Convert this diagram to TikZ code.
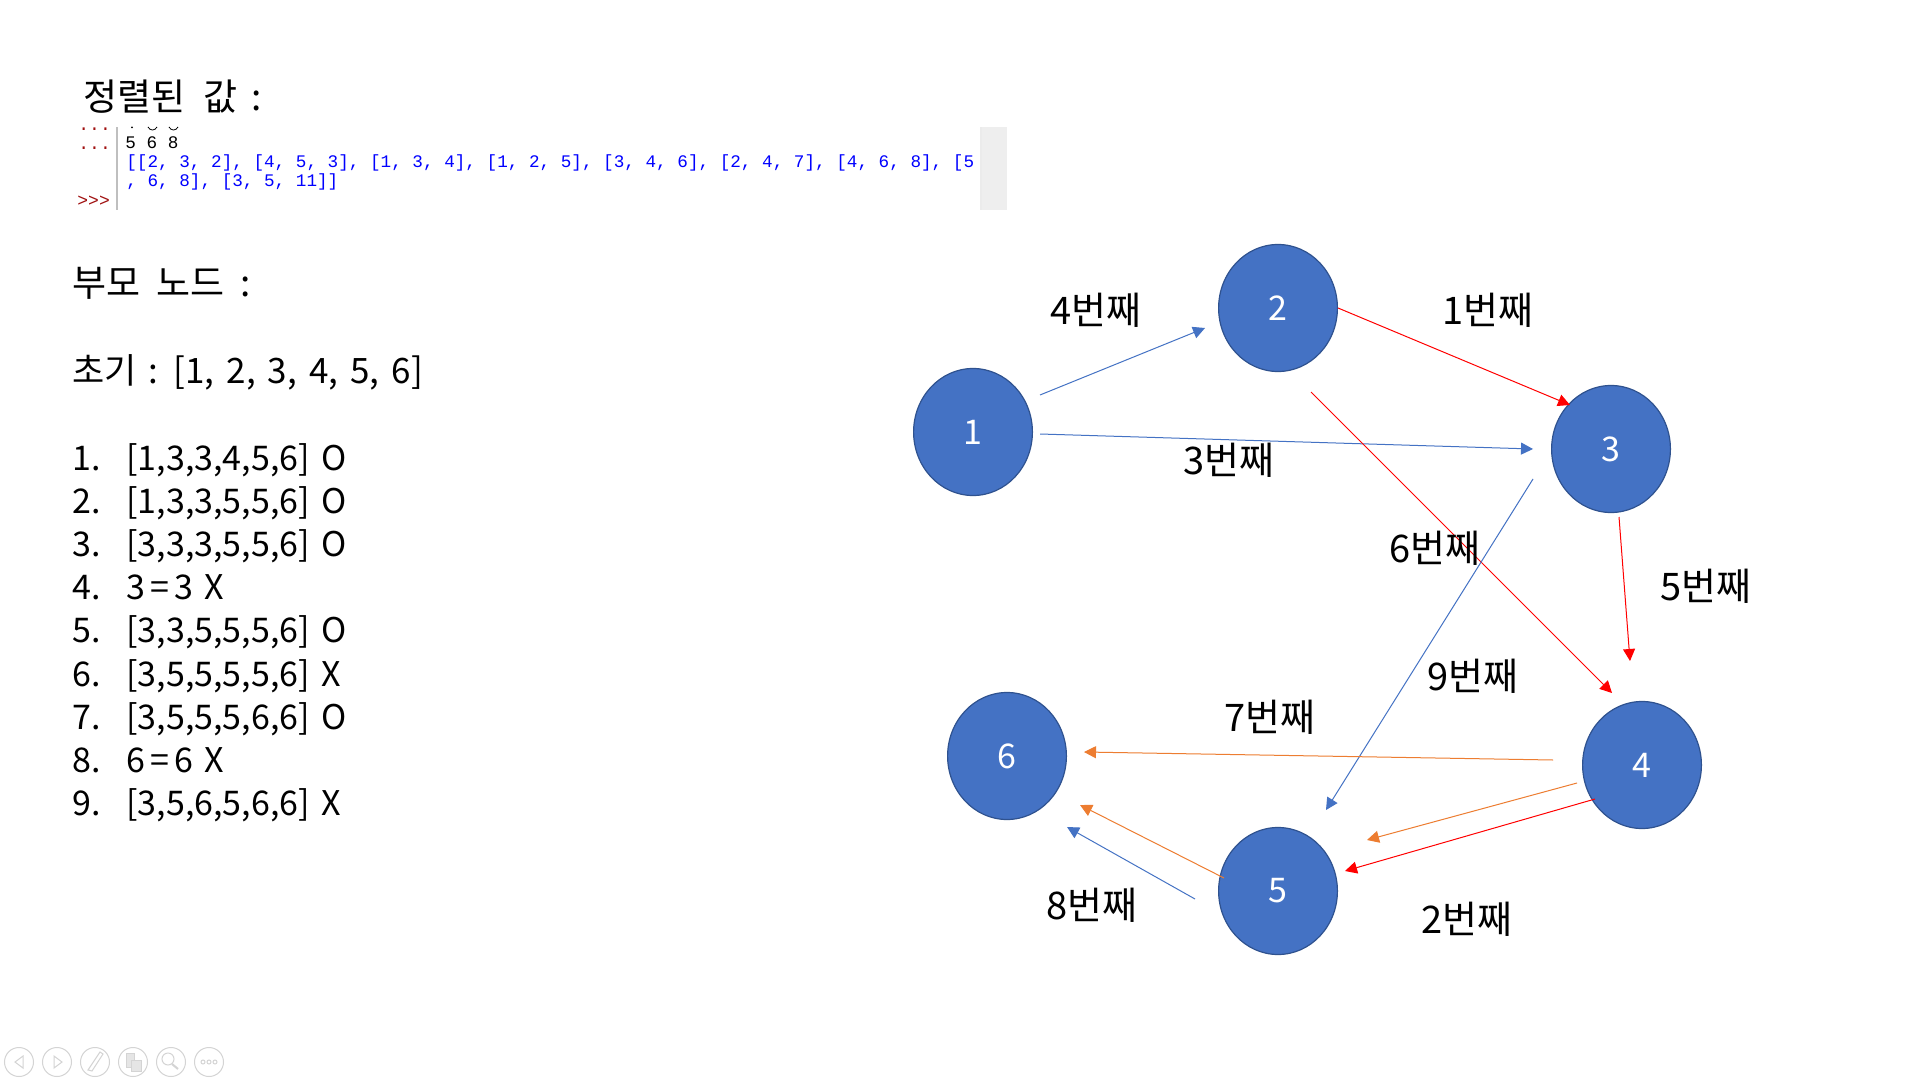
\documentclass[tikz,border=0pt]{standalone}
\usepackage{fontspec}
\setmainfont{Noto Sans CJK KR}
\newfontfamily\codefont{Liberation Mono}
\newfontfamily\initfont[WordSpace=1.2]{Noto Sans CJK KR}
\newfontfamily\listfont[WordSpace=1.55]{Noto Sans CJK KR}
\usetikzlibrary{arrows.meta,shapes.geometric}
\definecolor{nodeblue}{HTML}{4472C4}
\definecolor{nodeedge}{HTML}{2F528F}
\definecolor{arrorange}{HTML}{ED7D31}
\definecolor{promptred}{HTML}{A01010}
\definecolor{toolgrey}{HTML}{D4D4D4}
\tikzset{
  gnode/.style={ellipse,draw=nodeedge,line width=0.6pt,fill=nodeblue,minimum width=59.4pt,minimum height=63.5pt,inner sep=0pt,text=white,font=\fontsize{17}{20}\selectfont},
  conn/.style={line width=0.5pt,-{Triangle[length=6pt,width=6pt]}},
  cblue/.style={conn,draw=nodeblue},
  cred/.style={conn,draw=red},
  corange/.style={conn,draw=arrorange},
  elabel/.style={anchor=base west,inner sep=0pt,font=\fontsize{19}{22}\selectfont},
  txt/.style={anchor=base west,inner sep=0pt,font=\listfont\fontsize{17}{20}\selectfont},
  head/.style={anchor=base west,inner sep=0pt,font=\fontsize{18.5}{20}\selectfont},
  code/.style={anchor=base west,inner sep=0pt,font=\codefont\fontsize{8.83}{10}\selectfont},
  tool/.style={draw=toolgrey,line width=0.5pt},
}
\begin{document}
\begin{tikzpicture}[x=0.5pt,y=-0.5pt]
\useasboundingbox[fill=white] (0,0) rectangle (1920,1080);
% headings
\node[head] (h1) at (83,111) {정렬된\hspace{9pt}값\hspace{7pt}:};
\node[head] (h2) at (72,297) {부모\hspace{8pt}노드\hspace{8pt}:};
\node[txt,font=\initfont\fontsize{17.5}{20}\selectfont] (h3) at (72,383) {초기 : [1, 2, 3, 4, 5, 6]};
% list
\node[txt] (n1a) at (72,470) {1.}; \node[txt] (l1) at (126,470) {[1,3,3,4,5,6] O};
\node[txt] (n2a) at (72,513.2) {2.}; \node[txt] (l2) at (126,513.2) {[1,3,3,5,5,6] O};
\node[txt] (n3a) at (72,556.4) {3.}; \node[txt] (l3) at (126,556.4) {[3,3,3,5,5,6] O};
\node[txt] (n4a) at (72,599.6) {4.}; \node[txt] (l4) at (126,599.6) {3\kern2.5pt=\kern2.5pt3 X};
\node[txt] (n5a) at (72,642.8) {5.}; \node[txt] (l5) at (126,642.8) {[3,3,5,5,5,6] O};
\node[txt] (n6a) at (72,686) {6.}; \node[txt] (l6) at (126,686) {[3,5,5,5,5,6] X};
\node[txt] (n7a) at (72,729.2) {7.}; \node[txt] (l7) at (126,729.2) {[3,5,5,5,6,6] O};
\node[txt] (n8a) at (72,772.4) {8.}; \node[txt] (l8) at (126,772.4) {6\kern2.5pt=\kern2.5pt6 X};
\node[txt] (n9a) at (72,815.6) {9.}; \node[txt] (l9) at (126,815.6) {[3,5,6,5,6,6] X};
% code screenshot
\fill[black!25] (116,127) rectangle (118,210);
\fill[black!8] (980,127) rectangle (982,210);
\fill[black!6.5] (982,127) rectangle (1007,210);
\node[code,text=black] (c0) at (125,149) {5 6 8};
\node[code,text=blue] (c1) at (126,168) {[[2, 3, 2], [4, 5, 3], [1, 3, 4], [1, 2, 5], [3, 4, 6], [2, 4, 7], [4, 6, 8], [5};
\node[code,text=blue] (c2) at (126,187) {, 6, 8], [3, 5, 11]]};
\node[code,text=promptred] (p1) at (78,131) {\fontsize{9}{10}\selectfont ...};
\node[code,text=promptred] (p2) at (78,150) {\fontsize{9}{10}\selectfont ...};
\node[code,text=promptred] (p3) at (77,207) {\fontsize{9}{10}\selectfont >>>};
\fill[black] (132,127.5) circle (1);
\draw[black,line width=0.4pt] (148,127) .. controls (150,131) and (155,131) .. (157,127);
\draw[black,line width=0.4pt] (169,127) .. controls (171,131) and (176,131) .. (178,127);
% graph nodes
\node[gnode] (g1) at (973,432) {1};
\node[gnode] (g2) at (1278,308) {2};
\node[gnode] (g3) at (1611,449) {3};
\node[gnode] (g4) at (1642,765) {4};
\node[gnode] (g5) at (1278,891) {5};
\node[gnode] (g6) at (1007,756) {6};
% connector ends
\coordinate (a4s) at (1040,395); \coordinate (a4e) at (1205,328);
\coordinate (a3s) at (1040,434); \coordinate (a3e) at (1533,449);
\coordinate (a1e) at (1570,405);
\coordinate (a6s) at (1311,392); \coordinate (a6e) at (1612,693);
\coordinate (a5s) at (1619,517); \coordinate (a5e) at (1630,661);
\coordinate (a9s) at (1533,479); \coordinate (a9e) at (1326,810);
\coordinate (a7s) at (1553,760); \coordinate (a7e) at (1084,752);
\coordinate (b7s) at (1577,783); \coordinate (b7e) at (1367,840);
\coordinate (a2s) at (1595,799); \coordinate (a2e) at (1345,871);
\coordinate (b8s) at (1224,878); \coordinate (b8e) at (1080,805);
\coordinate (a8s) at (1195,899); \coordinate (a8e) at (1067,827);
\draw[cblue] (a4s) -- (a4e);
\draw[cblue] (a3s) -- (a3e);
\draw[cred] (g2.east) -- (a1e);
\draw[cred] (a6s) -- (a6e);
\draw[cred] (a5s) -- (a5e);
\draw[cblue] (a9s) -- (a9e);
\draw[corange] (a7s) -- (a7e);
\draw[corange] (b7s) -- (b7e);
\draw[cred] (a2s) -- (a2e);
\draw[corange] (b8s) -- (b8e);
\draw[cblue] (a8s) -- (a8e);
% edge labels
\node[elabel] (t4) at (1050,325) {4번째};
\node[elabel] (t1) at (1442,325) {1번째};
\node[elabel] (t3) at (1183,474) {3번째};
\node[elabel] (t6) at (1389,562) {6번째};
\node[elabel] (t5) at (1660,600) {5번째};
\node[elabel] (t9) at (1427,690) {9번째};
\node[elabel] (t7) at (1224,731) {7번째};
\node[elabel] (t8) at (1046,919) {8번째};
\node[elabel] (t2) at (1421,933) {2번째};
% toolbar
\foreach \cx in {19,57,95,133,171,209} \draw[tool] (\cx,1062) circle (14.5);
\draw[tool] (23,1056) -- (15,1062) -- (23,1068) -- cycle;
\draw[tool] (54,1056) -- (62,1062) -- (54,1068) -- cycle;
\draw[tool] (88,1070) -- (92,1071) -- (103,1054) -- (100,1052) -- cycle;
\draw[tool,fill=black!10] (126,1053) rectangle (134,1067);
\draw[tool,fill=black!10] (131,1060) rectangle (141,1071);
\draw[tool] (168,1059) circle (6);
\draw[tool,line width=1pt] (172,1064) -- (178,1069);
\foreach \dx in {203,209,215} \draw[tool] (\dx,1062) circle (2);
\end{tikzpicture}
\end{document}
